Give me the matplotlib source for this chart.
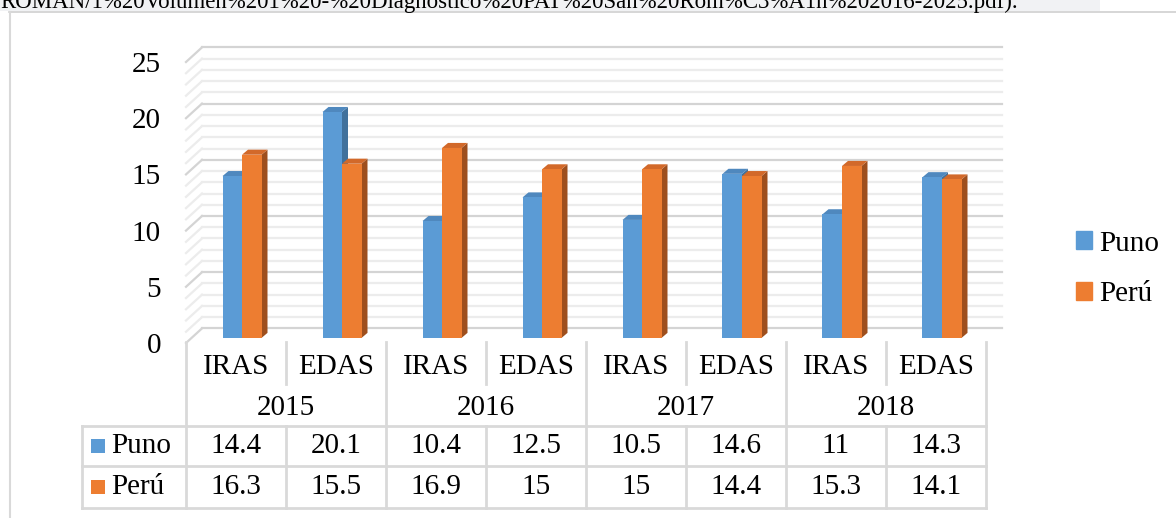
import matplotlib.pyplot as plt
from matplotlib.patches import Polygon, Rectangle

plt.rcParams['font.family'] = ['Liberation Serif', 'DejaVu Serif']

# data
years = ['2015', '2016', '2017', '2018']
kinds = ['IRAS', 'EDAS']
puno = [14.4, 20.1, 10.4, 12.5, 10.5, 14.6, 11, 14.3]
peru = [16.3, 15.5, 16.9, 15, 15, 14.4, 15.3, 14.1]
series = ['Puno', 'Perú']
header = 'ROMAN/1%20Volumen%201%20-%20Diagnostico%20PAT%20San%20Rom%C3%A1n%202016-2025.pdf).'

W, H = 1176, 518
FS = 21
fig = plt.figure(figsize=(W / 100, H / 100), dpi=100)

# main axes = front plane of the 3D plot area
ax = fig.add_axes([186 / W, (H - 343) / H, 800 / W, 281 / H])
ncat = len(puno)
ax.set_xlim(0, ncat)
ax.set_ylim(0, 25)
for s in ax.spines.values():
    s.set_visible(False)
ax.set_xticks([])
ax.set_yticks(range(0, 26, 5))
ax.tick_params(axis='y', length=0, pad=18, labelsize=FS)

# depth of the walls and bars in data units
DX, DY = 0.16, 1.3      # back wall
BX, BY = 0.06, 0.45     # bar front plane
bdx, bdy = 0.06, 0.45   # bar depth
w = 0.195

# walls: side wall diagonals + back wall lines
for v in range(0, 26):
    c = '#D4D4D4' if v % 5 == 0 else '#ECECEC'
    ax.plot([0, DX], [v, v + DY], color=c, lw=1.6, clip_on=False, zorder=1)
    ax.plot([DX, ncat + DX], [v + DY, v + DY], color=c, lw=1.6, clip_on=False, zorder=1)

colors = {
    'Puno': ('#5B9BD5', '#41719C', '#4F88BE'),
    'Perú': ('#ED7D31', '#9E4F1E', '#D2692A'),
}

def bar3d(xc, v, front, side, top, z):
    x0, x1 = xc - w / 2, xc + w / 2
    y0, y1 = BY, BY + v
    ax.add_patch(Polygon([(x1, y0), (x1 + bdx, y0 + bdy), (x1 + bdx, y1 + bdy), (x1, y1)],
                         facecolor=side, edgecolor='none', zorder=z, clip_on=False))
    ax.add_patch(Polygon([(x0, y1), (x1, y1), (x1 + bdx, y1 + bdy), (x0 + bdx, y1 + bdy)],
                         facecolor=top, edgecolor='none', zorder=z, clip_on=False))
    ax.bar(xc, v, width=w, bottom=y0, color=front, zorder=z + 0.5, clip_on=False)

for i in range(ncat):
    xc = i + 0.5 + BX
    bar3d(xc - w / 2, puno[i], *colors['Puno'], z=3)
    bar3d(xc + w / 2, peru[i], *colors['Perú'], z=4)

# legend
handles = [Rectangle((0, 0), 1, 1, color=colors[s][0]) for s in series]
fig.legend(handles, series, loc='center left', bbox_to_anchor=(1050 / W, 1 - 269 / H),
           frameon=False, fontsize=FS, handlelength=0.55, handleheight=0.55,
           handletextpad=0.25, labelspacing=0.85)

# overlay in pixel coordinates for the data table and frame
ov = fig.add_axes([0, 0, 1, 1])
ov.set_xlim(0, W)
ov.set_ylim(H, 0)
ov.axis('off')

# header strip (caption of the page, cut by the top edge as in the source)
ov.add_patch(Rectangle((0, 0), 1100, 11, facecolor='#F1F2F4', edgecolor='none'))
ov.text(0, 8, header, fontsize=16.5, ha='left', va='baseline', clip_on=True)
ov.plot([9, W], [11.5, 11.5], color='#D0D0D0', lw=1.2)
ov.plot([9.5, 9.5], [11.5, H], color='#D9D9D9', lw=1.5)

lc = '#D9D9D9'
L, CW = 186, 100
top, r1, r2, r3, bot = 342, 384, 426, 466, 508
right = L + CW * ncat
# vertical lines
for k in range(ncat + 1):
    x = L + CW * k
    if k % 2 == 0:
        ov.plot([x, x], [top, bot], color=lc, lw=2)
    else:
        ov.plot([x, x], [top, r1], color=lc, lw=2)
        ov.plot([x, x], [r2, bot], color=lc, lw=2)
ov.plot([82, 82], [r2, bot], color=lc, lw=2)
for y in (r2, r3, bot):
    ov.plot([82, right], [y, y], color=lc, lw=2)

for i in range(ncat):
    xc = L + CW * (i + 0.5)
    ov.text(xc, 367, kinds[i % 2], fontsize=FS, ha='center', va='center')
    ov.text(xc, 446, f'{puno[i]:g}', fontsize=FS, ha='center', va='center')
    ov.text(xc, 487, f'{peru[i]:g}', fontsize=FS, ha='center', va='center')
for j, yr in enumerate(years):
    ov.text(L + CW * (2 * j + 1), 408, yr, fontsize=FS, ha='center', va='center')

for s, yc in zip(series, (446, 487)):
    ov.add_patch(Rectangle((91, yc - 7), 14, 14, facecolor=colors[s][0], edgecolor='none'))
    ov.text(111, yc, s, fontsize=FS, ha='left', va='center')

fig.savefig('out.png', dpi=100)
